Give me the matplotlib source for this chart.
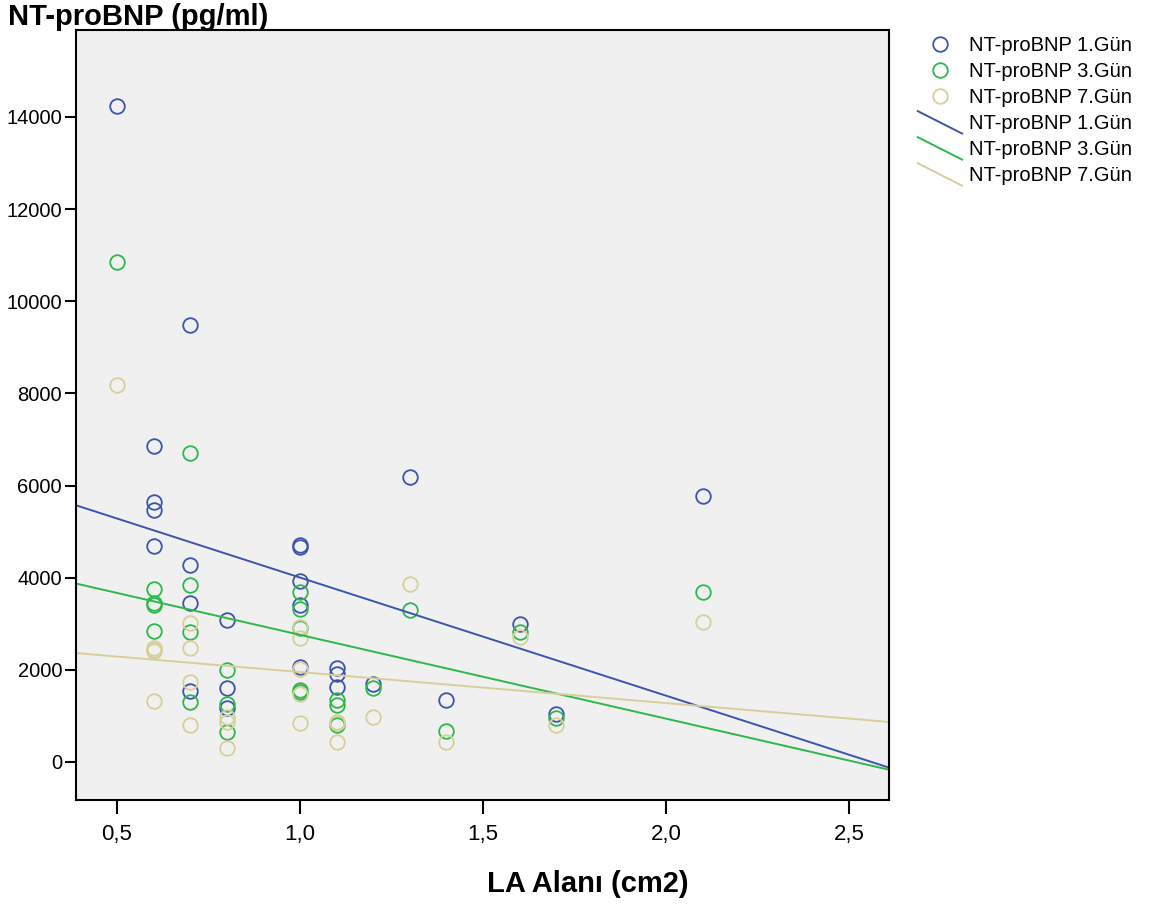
import matplotlib
matplotlib.use("Agg")
import matplotlib.pyplot as plt
from matplotlib.legend_handler import HandlerLine2D
import numpy as np

plt.rcParams['font.family'] = ['Liberation Sans', 'DejaVu Sans']
dar = ['Liberation Sans Narrow', 'Liberation Sans', 'DejaVu Sans']

# LA Alani (cm2) and NT-proBNP values per day
x_gun1 = [0.5, 0.6, 0.6, 0.6, 0.6, 0.7, 0.7, 0.7, 0.7, 0.8, 0.8, 0.8,
          1.0, 1.0, 1.0, 1.0, 1.0, 1.1, 1.1, 1.1, 1.2, 1.3, 1.4, 1.6, 1.7, 2.1]
y_gun1 = [14230, 6850, 5645, 5470, 4690, 9490, 4270, 3450, 1540, 3080, 1605, 1175,
          4710, 4665, 3925, 3410, 2060, 2035, 1905, 1625, 1690, 6180, 1345, 2995, 1040, 5770]

x_gun3 = [0.5, 0.6, 0.6, 0.6, 0.6, 0.7, 0.7, 0.7, 0.7, 0.8, 0.8, 0.8,
          1.0, 1.0, 1.0, 1.0, 1.0, 1.1, 1.1, 1.1, 1.2, 1.3, 1.4, 1.6, 1.7, 2.1]
y_gun3 = [10850, 3755, 3450, 3405, 2845, 6705, 3840, 2820, 1300, 1995, 1260, 650,
          3690, 3320, 2910, 1560, 1520, 1345, 1235, 805, 1605, 3300, 670, 2820, 955, 3690]

x_gun7 = [0.5, 0.6, 0.6, 0.6, 0.6, 0.7, 0.7, 0.7, 0.7, 0.8, 0.8, 0.8,
          1.0, 1.0, 1.0, 1.0, 1.0, 1.1, 1.1, 1.1, 1.2, 1.3, 1.4, 1.6, 1.7, 2.1]
y_gun7 = [8180, 2475, 2440, 2410, 1325, 3015, 2475, 1735, 805, 975, 870, 305,
          2930, 2690, 2020, 1475, 845, 870, 840, 435, 975, 3865, 435, 2715, 805, 3040]

etiket = ['NT-proBNP 1.Gün', 'NT-proBNP 3.Gün', 'NT-proBNP 7.Gün']
renkler = ['#3c54ad', '#2db84a', '#d6cf9a']

fig = plt.figure(figsize=(11.49, 9.06), dpi=100)
ax = fig.add_axes([0.0661, 0.117, 0.7076, 0.850])
ax.set_facecolor('#f0f0f0')

xlim = (0.388, 2.609)
seriler = [(x_gun1, y_gun1), (x_gun3, y_gun3), (x_gun7, y_gun7)]
for (xs, ys), c, lab in zip(seriler, renkler, etiket):
    ax.plot(xs, ys, 'o', mfc='none', mec=c, mew=1.3, ms=10.5, label=lab)
for (xs, ys), c, lab in zip(seriler, renkler, etiket):
    m, b = np.polyfit(xs, ys, 1)
    xx = np.array(xlim)
    ax.plot(xx, m * xx + b, '-', color=c, lw=1.4, label=lab)

ax.set_xlim(*xlim)
ax.set_ylim(-825, 15890)
ax.set_xticks([0.5, 1.0, 1.5, 2.0, 2.5])
ax.set_xticklabels(['0,5', '1,0', '1,5', '2,0', '2,5'], family=dar, fontsize=16)
ax.set_yticks(range(0, 14001, 2000))
ax.tick_params(axis='y', labelsize=14.5)
ax.tick_params(axis='both', width=1.5, color='black')
ax.tick_params(axis='x', length=10, pad=7)
ax.tick_params(axis='y', length=8, pad=2)
for s in ax.spines.values():
    s.set_linewidth(1.5)

fig.text(588 / 1149, 1 - 884 / 906, 'LA Alanı (cm2)', family=dar, fontsize=21,
         fontweight='bold', ha='center', va='center')
fig.text(0.007, 0.981, 'NT-proBNP (pg/ml)', fontsize=21, fontweight='bold', va='center', ha='left')


class EgikCizgi(HandlerLine2D):
    def create_artists(self, legend, orig_handle, xdescent, ydescent, width, height, fontsize, trans):
        ln = plt.Line2D([0, width], [height + 3, -3], color=orig_handle.get_color(),
                        lw=orig_handle.get_linewidth(), transform=trans)
        return [ln]


h, l = ax.get_legend_handles_labels()
leg = fig.legend(h, l, loc='upper left', bbox_to_anchor=(0.783, 0.98), frameon=False,
                 fontsize=14.5, handlelength=2.2, handletextpad=0.35, labelspacing=0.35,
                 handler_map={hh: EgikCizgi() for hh in h[3:]})

fig.savefig('out.png', dpi=100)
